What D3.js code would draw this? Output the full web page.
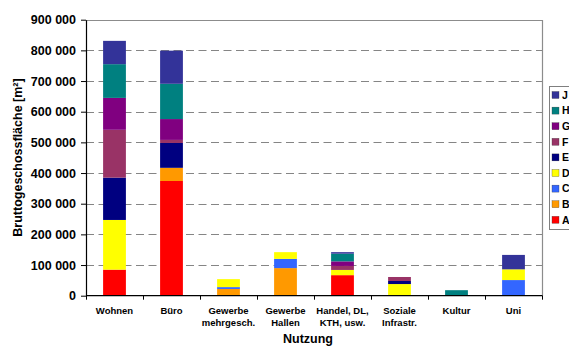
<!DOCTYPE html>
<html>
<head>
<meta charset="utf-8">
<script src="https://cdn.jsdelivr.net/npm/d3@7"></script>
<style>
  html, body { margin: 0; padding: 0; background: #fff; }
  svg { display: block; font-family: "Liberation Sans", Arial, sans-serif; font-weight: bold; }
</style>
</head>
<body>
<svg id="chart" width="569" height="346"></svg>
<script>
// Usage categories (two-line labels split on "|")
const categories = ["Wohnen", "Büro", "Gewerbe|mehrgesch.", "Gewerbe|Hallen",
                    "Handel, DL,|KTH, usw.", "Soziale|Infrastr.", "Kultur", "Uni"];
// Stack series, bottom to top
const seriesKeys = ["A", "B", "C", "D", "E", "F", "G", "H", "J"];
const seriesColors = ["#ff0000", "#ff9900", "#3366ff", "#ffff00", "#000080",
                      "#993366", "#800080", "#008080", "#333399"];
// Floor area per series and category [m²]
const valuesA = [85000, 374000, 0, 0, 67000, 0, 0, 0];
const valuesB = [0, 43000, 22000, 90000, 0, 0, 0, 0];
const valuesC = [0, 0, 6000, 30000, 0, 0, 0, 51000];
const valuesD = [162000, 0, 26000, 22000, 17000, 38000, 0, 35000];
const valuesE = [138000, 81000, 0, 0, 0, 10000, 0, 0];
const valuesF = [156000, 10000, 0, 0, 13000, 13000, 0, 0];
const valuesG = [104000, 68000, 0, 0, 15000, 0, 0, 0];
const valuesH = [110000, 115000, 0, 0, 25000, 0, 18000, 0];
const valuesJ = [76000, 108000, 0, 0, 5000, 0, 0, 47000];
const yTicks = [0, 100000, 200000, 300000, 400000, 500000, 600000, 700000, 800000, 900000];

const seriesValues = [valuesA, valuesB, valuesC, valuesD, valuesE, valuesF, valuesG, valuesH, valuesJ];
const rows = categories.map((c, i) => {
  const r = { cat: c };
  seriesKeys.forEach((k, s) => { r[k] = seriesValues[s][i]; });
  return r;
});

const svg = d3.select("#chart");
const plot = { left: 86, right: 542, top: 19.7, bottom: 295.7 };

const x = d3.scaleBand().domain(categories)
  .range([plot.left, plot.right]).paddingInner(0.6).paddingOuter(0.3);
const y = d3.scaleLinear().domain([0, 900000]).range([plot.bottom, plot.top]);
const color = d3.scaleOrdinal().domain(seriesKeys).range(seriesColors);

const fmt = d3.formatLocale({ decimal: ",", thousands: " ", grouping: [3], currency: ["", ""] }).format(",d");

// Dashed gridlines
svg.append("g").selectAll("line")
  .data(yTicks.filter(t => t > 0 && t < 900000))
  .join("line")
  .attr("x1", plot.left).attr("x2", plot.right)
  .attr("y1", d => Math.round(y(d)) + 0.5).attr("y2", d => Math.round(y(d)) + 0.5)
  .attr("stroke", "#858585").attr("stroke-width", 1).attr("stroke-dasharray", "8,4.5");

// Plot area border (top and right)
svg.append("path")
  .attr("d", `M${plot.left},${Math.round(plot.top) + 0.5}H${plot.right + 0.5}V${plot.bottom}`)
  .attr("fill", "none").attr("stroke", "#8c8c8c").attr("stroke-width", 1.2);

// Stacked bars
const stacked = d3.stack().keys(seriesKeys)(rows);
svg.append("g").selectAll("g")
  .data(stacked)
  .join("g")
  .attr("fill", d => color(d.key))
  .selectAll("rect")
  .data(d => d)
  .join("rect")
  .attr("x", d => x(d.data.cat))
  .attr("width", x.bandwidth())
  .attr("y", d => y(d[1]))
  .attr("height", d => y(d[0]) - y(d[1]));

// Y axis
const yAxis = svg.append("g")
  .attr("transform", `translate(${plot.left},0)`)
  .call(d3.axisLeft(y).tickValues(yTicks).tickFormat(fmt).tickSize(5).tickSizeOuter(0));
yAxis.select(".domain").attr("stroke", "#000").attr("stroke-width", 1.2);
yAxis.selectAll(".tick line").attr("stroke", "#000");
yAxis.selectAll(".tick text")
  .attr("x", -10).attr("font-size", 12.5).attr("font-weight", "bold")
  .attr("font-family", "Liberation Sans, Arial, sans-serif").attr("fill", "#000");

// X axis with ticks at category boundaries
const xAxisG = svg.append("g");
xAxisG.append("line")
  .attr("x1", plot.left).attr("x2", plot.right + 0.5)
  .attr("y1", plot.bottom).attr("y2", plot.bottom)
  .attr("stroke", "#000").attr("stroke-width", 1.2);
xAxisG.selectAll("line.tick")
  .data(categories.map((c, i) => plot.left + i * x.step()).concat([plot.right]))
  .join("line").attr("class", "tick")
  .attr("x1", d => Math.round(d) + 0.5).attr("x2", d => Math.round(d) + 0.5)
  .attr("y1", plot.bottom).attr("y2", plot.bottom + 4)
  .attr("stroke", "#000").attr("stroke-width", 1);

const xLabels = xAxisG.selectAll("text.cat")
  .data(categories)
  .join("text").attr("class", "cat")
  .attr("x", d => x(d) + x.bandwidth() / 2)
  .attr("y", 314)
  .attr("text-anchor", "middle")
  .attr("font-size", 9.5);
xLabels.each(function(d) {
  const parts = d.split("|");
  d3.select(this).selectAll("tspan").data(parts).join("tspan")
    .attr("x", x(d) + x.bandwidth() / 2)
    .attr("dy", (p, i) => i === 0 ? 0 : 12)
    .text(p => p);
});

// Axis titles
svg.append("text")
  .attr("x", 308).attr("y", 342.5)
  .attr("text-anchor", "middle").attr("font-size", 12.5)
  .text("Nutzung");
svg.append("text")
  .attr("transform", "translate(21.5,157.5) rotate(-90)")
  .attr("text-anchor", "middle").attr("font-size", 12.5)
  .text("Bruttogeschossfläche [m²]");

// Legend (top entry = last series)
const legend = svg.append("g");
legend.append("rect")
  .attr("x", 549.5).attr("y", 86.5).attr("width", 30).attr("height", 143)
  .attr("fill", "#fff").attr("stroke", "#7f7f7f").attr("stroke-width", 1);
const legendKeys = seriesKeys.slice().reverse();
const li = legend.selectAll("g.item").data(legendKeys).join("g").attr("class", "item")
  .attr("transform", (d, i) => `translate(552,${95 + i * 15.6})`);
li.append("rect").attr("x", 0).attr("y", -3.5).attr("width", 7).attr("height", 7)
  .attr("fill", d => color(d)).attr("stroke", "#333").attr("stroke-width", 0.3);
li.append("text").attr("x", 10).attr("y", 3.8).attr("font-size", 10.5).text(d => d);
</script>
</body>
</html>
